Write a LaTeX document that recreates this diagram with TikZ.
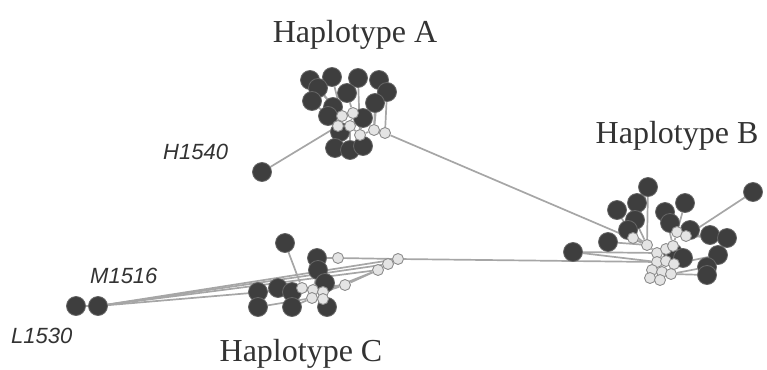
\documentclass[tikz,border=0pt]{standalone}
\usepackage{fontspec}
\setmainfont{Liberation Serif}
\newfontfamily\lblfont{Liberation Sans}
\usetikzlibrary{backgrounds}
\definecolor{dkfill}{HTML}{3E3E3E}
\definecolor{dkline}{HTML}{666666}
\definecolor{ltfill}{HTML}{E4E4E4}
\definecolor{ltline}{HTML}{8C8C8C}
\definecolor{edgecol}{HTML}{A6A6A6}
\tikzset{
  dk/.style={circle,fill=dkfill,draw=dkline,line width=0.8pt,minimum size=19pt,inner sep=0pt},
  lt/.style={circle,fill=ltfill,draw=ltline,line width=0.9pt,minimum size=11pt,inner sep=0pt},
  edge/.style={draw=edgecol,line width=1.7pt},
  title/.style={font=\fontsize{32}{36}\selectfont,text=black!80,inner sep=0pt},
  lab/.style={font=\lblfont\itshape\fontsize{22}{24}\selectfont,text=black!80,inner sep=0pt}
}
\begin{document}
\begin{tikzpicture}[x=1pt,y=-1pt]
\useasboundingbox (0,0) rectangle (767,369);
% titles
\node[title,anchor=base] (tA) at (355,42) {Haplotype A};
\node[title,anchor=base] (tB) at (677,143) {Haplotype B};
\node[title,anchor=base] (tC) at (301,361) {Haplotype C};
\node[lab,anchor=base west] (lH) at (163,159) {H1540};
\node[lab,anchor=base west] (lM) at (90,283) {M1516};
\node[lab,anchor=base west] (lL) at (11,343) {L1530};
% cluster A dark
\foreach \n/\x/\y in {a1/310/80,a2/332/77,a3/358/78,a4/379/80,a5/387/92,a6/318/88,a7/312/101,a8/347/93,a9/333/107,a10/375/103,a11/328/116,a12/363/118,a13/340/132,a14/335/148,a15/350/150,a16/363/146,H/262/172}
  \node[dk] (\n) at (\x,\y) {};
% cluster A light
\foreach \n/\x/\y in {al1/342/116,al2/353/113,al3/338/126,al4/350/126,al5/360/135,al6/374/130,al7/385/133}
  \node[lt] (\n) at (\x,\y) {};
% cluster B dark
\foreach \n/\x/\y in {b1/648/187,b2/753/192,b3/637/203,b4/617/210,b5/665/212,b6/685/203,b7/635/220,b8/628/230,b9/608/242,b10/670/223,b11/690/230,b12/710/235,b13/727/238,b14/573/252,b15/673/253,b16/683/258,b17/718/255,b18/707/267,b19/707/275}
  \node[dk] (\n) at (\x,\y) {};
% cluster B light
\foreach \n/\x/\y in {bl1/677/232,bl2/686/236,bl3/633/238,bl4/647/245,bl5/657/253,bl6/666/249,bl7/657/262,bl8/666/261,bl9/674/264,bl10/652/270,bl11/662/272,bl12/671/274,bl13/650/278,bl14/660/280,bl15/673/246}
  \node[lt] (\n) at (\x,\y) {};
% cluster C dark
\foreach \n/\x/\y in {c1/285/243,c2/317/258,c3/318/270,c4/258/292,c5/258/307,c6/278/288,c7/292/292,c8/292/307,c9/325/283,c10/327/307,M/98/306,L/76/306}
  \node[dk] (\n) at (\x,\y) {};
% cluster C light
\foreach \n/\x/\y in {cl1/338/258,cl2/398/259,cl3/388/264,cl4/378/270,cl5/345/285,cl6/302/288,cl7/313/290,cl8/323/292,cl9/312/298,cl10/323/299}
  \node[lt] (\n) at (\x,\y) {};
\begin{scope}[on background layer]
% A edges
\foreach \u/\v in {a1/al1,a2/al1,a6/al1,a7/al3,a8/al2,a9/al1,a3/al5,a4/al6,a5/al7,a10/al6,a11/al3,a12/al5,a13/al3,a14/al4,a15/al4,a16/al5,al1/al2,al2/al4,al3/al4,al4/al5,al5/al6,al6/al7,H/al3,al7/bl4}
  \path[edge] (\u) -- (\v);
% B edges
\foreach \u/\v in {b1/bl3,b1/bl4,b3/bl3,b4/bl3,b7/bl4,b8/bl4,b9/bl4,b14/bl5,b14/bl7,b5/bl15,b6/bl1,b10/bl1,b11/bl2,b12/bl2,b13/bl2,b2/bl2,b15/bl8,b16/bl9,b17/bl9,b18/bl12,b19/bl12,bl3/bl4,bl4/bl5,bl5/bl6,bl6/bl15,bl15/bl1,bl1/bl2,bl5/bl7,bl7/bl8,bl8/bl9,bl7/bl10,bl10/bl11,bl11/bl12,bl10/bl13,bl13/bl14}
  \path[edge] (\u) -- (\v);
% C edges
\foreach \u/\v in {L/M,M/cl4,M/cl3,M/cl5,M/cl2,c1/cl6,c2/cl1,c3/cl7,c4/cl6,c5/cl9,c6/cl6,c7/cl7,c8/cl9,c9/cl8,c10/cl10,cl1/cl2,cl2/cl3,cl3/cl4,cl4/cl5,cl5/cl8,cl6/cl7,cl7/cl8,cl7/cl9,cl9/cl10,cl4/cl8,cl2/bl7}
  \path[edge] (\u) -- (\v);
\end{scope}
\end{tikzpicture}
\end{document}
